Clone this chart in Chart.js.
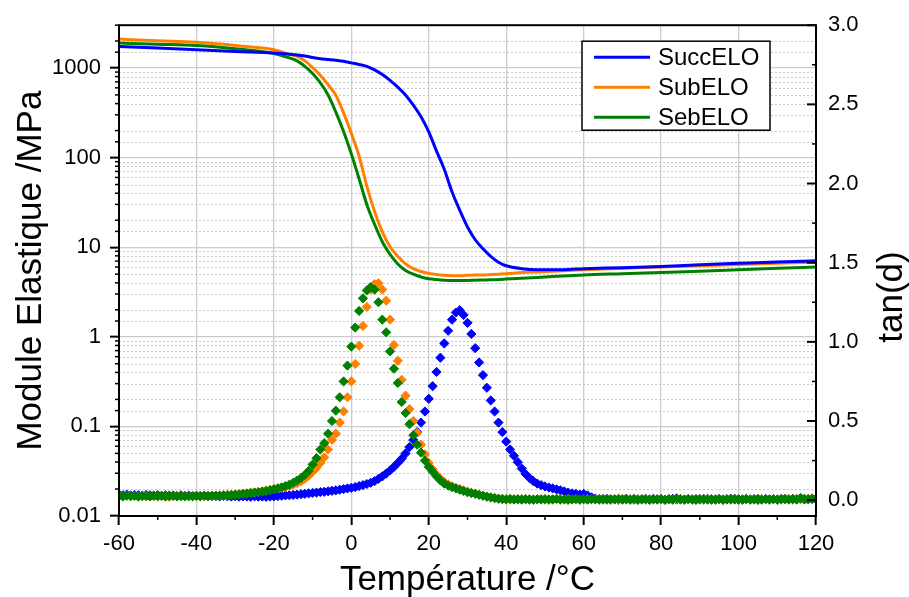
<!DOCTYPE html>
<html lang="fr">
<head>
    <meta charset="UTF-8" />
    <title>Module élastique et tan(d)</title>
    <script src="https://cdn.jsdelivr.net/npm/chart.js"></script>
    <style>
        body { margin: 0; background: #fff; }
        #wrap { width: 909px; height: 597px; position: relative; }
    </style>
</head>
<body>
<div id="wrap"><canvas id="dmaChart"></canvas></div>

<script>
    // Noms et couleurs des trois résines
    const seriesNames = ['SuccELO', 'SubELO', 'SebELO'];
    const seriesColors = ['#0000ff', '#ff8000', '#008000'];

    const xTitle = 'Température /°C';
    const yTitle = 'Module Elastique /MPa';
    const y2Title = 'tan(d)';

    const xTickLabels = ['-60', '-40', '-20', '0', '20', '40', '60', '80', '100', '120'];
    const yTickLabels = ['0.01', '0.1', '1', '10', '100', '1000'];
    const tanTickLabels = ['0.0', '0.5', '1.0', '1.5', '2.0', '2.5', '3.0'];

    // Module élastique (MPa), courbes continues
    const tempModulus = [-60, -50, -40, -30, -20, -16, -14, -12, -10, -8, -6, -4, -2, 0, 2, 4, 6, 8, 10, 12,
        14, 16, 18, 20, 22, 24, 26, 28, 30, 32, 34, 36, 38, 40, 44, 48, 52, 56, 60, 70, 80, 90, 100, 110, 120];
    const modSucc = [1740, 1670, 1600, 1530, 1470, 1420, 1395, 1360, 1310, 1270, 1245, 1220, 1190, 1140, 1095, 1040, 950, 845, 728, 610,
        500, 385, 285, 193, 118, 74, 41.5, 25.8, 16.8, 12.1, 9.6, 7.9, 6.8, 6.2, 5.75, 5.6, 5.6, 5.65, 5.75, 5.9, 6.1, 6.35, 6.6, 6.85, 7.05];
    const modSub = [2100, 2010, 1930, 1780, 1600, 1420, 1350, 1200, 1010, 830, 650, 497, 315, 186, 104, 48, 25, 14.8, 10.1, 7.9,
        6.5, 5.75, 5.35, 5.1, 4.95, 4.85, 4.8, 4.8, 4.85, 4.88, 4.9, 4.95, 5.0, 5.05, 5.2, 5.3, 5.4, 5.5, 5.6, 5.8, 6.0, 6.2, 6.4, 6.6, 6.8];
    const modSeb = [1900, 1840, 1780, 1640, 1450, 1295, 1200, 1040, 865, 680, 500, 322, 195, 110, 58, 30, 18, 11.5, 8.3, 6.5,
        5.5, 5.0, 4.65, 4.45, 4.35, 4.28, 4.25, 4.25, 4.25, 4.28, 4.3, 4.32, 4.35, 4.4, 4.5, 4.6, 4.7, 4.8, 4.9, 5.05, 5.2, 5.4, 5.6, 5.8, 6.0];

    // tan(d), points losanges
    const tempTan = [
        -60, -59, -58, -57, -56, -55, -54, -53, -52, -51,
        -50, -49, -48, -47, -46, -45, -44, -43, -42, -41,
        -40, -39, -38, -37, -36, -35, -34, -33, -32, -31,
        -30, -29, -28, -27, -26, -25, -24, -23, -22, -21,
        -20, -19, -18, -17, -16, -15, -14, -13, -12, -11,
        -10, -9, -8, -7, -6, -5, -4, -3, -2, -1,
        0, 1, 2, 3, 4, 5, 6, 7, 8, 9,
        10, 11, 12, 13, 14, 15, 16, 17, 18, 19,
        20, 21, 22, 23, 24, 25, 26, 27, 28, 29,
        30, 31, 32, 33, 34, 35, 36, 37, 38, 39,
        40, 41, 42, 43, 44, 45, 46, 47, 48, 49,
        50, 51, 52, 53, 54, 55, 56, 57, 58, 59,
        60, 61, 62, 63, 64, 65, 66, 67, 68, 69,
        70, 71, 72, 73, 74, 75, 76, 77, 78, 79,
        80, 81, 82, 83, 84, 85, 86, 87, 88, 89,
        90, 91, 92, 93, 94, 95, 96, 97, 98, 99,
        100, 101, 102, 103, 104, 105, 106, 107, 108, 109,
        110, 111, 112, 113, 114, 115, 116, 117, 118, 119, 120];

    const tanSucc = [
        0.034, 0.031, 0.035, 0.030, 0.033, 0.032, 0.029, 0.033, 0.031, 0.030,
        0.032, 0.028, 0.031, 0.029, 0.030, 0.027, 0.031, 0.028, 0.029, 0.027,
        0.028, 0.026, 0.029, 0.025, 0.027, 0.026, 0.024, 0.027, 0.025, 0.023,
        0.025, 0.022, 0.024, 0.023, 0.021, 0.024, 0.022, 0.023, 0.021, 0.023,
        0.024, 0.026, 0.028, 0.030, 0.031, 0.033, 0.035, 0.038, 0.040, 0.043,
        0.046, 0.048, 0.051, 0.053, 0.056, 0.059, 0.062, 0.066, 0.070, 0.074,
        0.078, 0.083, 0.089, 0.095, 0.102, 0.110, 0.120, 0.135, 0.150, 0.168,
        0.188, 0.210, 0.235, 0.262, 0.295, 0.335, 0.380, 0.430, 0.490, 0.560,
        0.640, 0.720, 0.810, 0.900, 0.990, 1.070, 1.140, 1.185, 1.200, 1.170,
        1.120, 1.050, 0.960, 0.870, 0.790, 0.710, 0.630, 0.560, 0.490, 0.430,
        0.370, 0.320, 0.280, 0.240, 0.200, 0.165, 0.140, 0.120, 0.105, 0.095,
        0.087, 0.080, 0.074, 0.068, 0.062, 0.055, 0.048, 0.043, 0.040, 0.035,
        0.040, 0.030, 0.018, 0.010, 0.006, 0.004, 0.008, 0.003, 0.006, 0.002,
        0.005, 0.009, 0.004, 0.006, 0.002, 0.007, 0.005, 0.003, 0.008, 0.004,
        0.006, 0.002, 0.005, 0.009, 0.004, 0.006, 0.003, 0.007, 0.005, 0.002,
        0.006, 0.004, 0.008, 0.003, 0.005, 0.007, 0.002, 0.006, 0.004, 0.008,
        0.003, 0.005, 0.007, 0.004, 0.006, 0.002, 0.005, 0.008, 0.004, 0.006,
        0.003, 0.007, 0.005, 0.004, 0.008, 0.006, 0.010, 0.005, 0.007, 0.009, 0.006];

    const tanSub = [
        0.026, 0.023, 0.028, 0.025, 0.027, 0.024, 0.026, 0.028, 0.023, 0.026,
        0.024, 0.027, 0.025, 0.022, 0.026, 0.028, 0.024, 0.026, 0.025, 0.027,
        0.026, 0.028, 0.025, 0.027, 0.029, 0.028, 0.031, 0.030, 0.033, 0.034,
        0.036, 0.038, 0.041, 0.043, 0.046, 0.049, 0.052, 0.056, 0.060, 0.065,
        0.070, 0.074, 0.078, 0.083, 0.090, 0.098, 0.108, 0.120, 0.135, 0.155,
        0.180, 0.205, 0.235, 0.270, 0.320, 0.380, 0.420, 0.490, 0.560, 0.650,
        0.750, 0.860, 0.975, 1.100, 1.220, 1.330, 1.365, 1.370, 1.330, 1.260,
        1.140, 0.980, 0.880, 0.760, 0.660, 0.575, 0.500, 0.425, 0.350, 0.290,
        0.235, 0.195, 0.160, 0.135, 0.115, 0.100, 0.088, 0.078, 0.070, 0.062,
        0.054, 0.047, 0.041, 0.035, 0.029, 0.023, 0.018, 0.014, 0.010, 0.008,
        0.006, 0.003, 0.007, 0.004, 0.008, 0.005, 0.002, 0.006, 0.004, 0.007,
        0.003, 0.006, 0.004, 0.008, 0.005, 0.003, 0.007, 0.004, 0.006, 0.002,
        0.005, 0.007, 0.004, 0.006, 0.003, 0.008, 0.005, 0.004, 0.006, 0.003,
        0.007, 0.004, 0.006, 0.002, 0.005, 0.008, 0.004, 0.006, 0.003, 0.007,
        0.005, 0.003, 0.006, 0.004, 0.007, 0.005, 0.002, 0.006, 0.004, 0.008,
        0.003, 0.006, 0.005, 0.007, 0.004, 0.006, 0.002, 0.005, 0.008, 0.004,
        0.006, 0.004, 0.007, 0.003, 0.005, 0.008, 0.004, 0.006, 0.003, 0.007,
        0.005, 0.004, 0.007, 0.006, 0.003, 0.008, 0.005, 0.009, 0.006, 0.012, 0.010];

    const tanSeb = [
        0.027, 0.024, 0.029, 0.025, 0.028, 0.023, 0.027, 0.026, 0.024, 0.028,
        0.025, 0.027, 0.023, 0.026, 0.028, 0.024, 0.027, 0.025, 0.026, 0.024,
        0.027, 0.025, 0.028, 0.026, 0.027, 0.029, 0.028, 0.030, 0.031, 0.033,
        0.035, 0.037, 0.040, 0.042, 0.045, 0.048, 0.050, 0.054, 0.058, 0.063,
        0.068, 0.074, 0.081, 0.089, 0.098, 0.110, 0.124, 0.140, 0.160, 0.185,
        0.225, 0.265, 0.320, 0.360, 0.420, 0.500, 0.565, 0.650, 0.750, 0.850,
        0.970, 1.090, 1.195, 1.275, 1.325, 1.345, 1.330, 1.250, 1.140, 1.060,
        0.940, 0.830, 0.740, 0.620, 0.550, 0.480, 0.410, 0.350, 0.300, 0.250,
        0.210, 0.180, 0.150, 0.125, 0.105, 0.092, 0.082, 0.074, 0.066, 0.058,
        0.050, 0.045, 0.040, 0.034, 0.028, 0.022, 0.017, 0.013, 0.009, 0.007,
        0.005, 0.008, 0.004, 0.006, 0.003, 0.007, 0.005, 0.002, 0.006, 0.004,
        0.007, 0.003, 0.005, 0.008, 0.004, 0.006, 0.002, 0.005, 0.007, 0.004,
        0.006, 0.003, 0.008, 0.005, 0.004, 0.007, 0.003, 0.006, 0.005, 0.009,
        0.004, 0.006, 0.003, 0.007, 0.005, 0.004, 0.008, 0.003, 0.006, 0.005,
        0.007, 0.004, 0.006, 0.003, 0.012, 0.005, 0.004, 0.007, 0.003, 0.006,
        0.005, 0.008, 0.004, 0.006, 0.003, 0.007, 0.005, 0.004, 0.009, 0.005,
        0.006, 0.003, 0.007, 0.005, 0.004, 0.008, 0.003, 0.006, 0.005, 0.007,
        0.004, 0.006, 0.008, 0.005, 0.007, 0.004, 0.014, 0.006, 0.005, 0.008, 0.009];

    const FONT = '"Liberation Sans", Arial, sans-serif';
    const GRID = '#cccccc';
    const NONE = 'rgba(0,0,0,0)';

    const isDecade = v => Math.abs(Math.log10(v) - Math.round(Math.log10(v))) < 1e-6;
    const toPoints = (xs, ys) => xs.map((x, i) => ({ x: x, y: ys[i] }));

    const modulusSets = [modSucc, modSub, modSeb].map((vals, i) => ({
        type: 'line',
        label: seriesNames[i],
        data: toPoints(tempModulus, vals),
        yAxisID: 'y',
        borderColor: seriesColors[i],
        backgroundColor: seriesColors[i],
        borderWidth: 3,
        pointRadius: 0,
        showLine: true,
        cubicInterpolationMode: 'monotone',
        order: i + 1
    }));

    // ordre: SebELO au-dessus, SuccELO en dessous
    const tanSets = [tanSucc, tanSub, tanSeb].map((vals, i) => ({
        type: 'scatter',
        label: seriesNames[i] + ' tan(d)',
        data: toPoints(tempTan, vals),
        yAxisID: 'y2',
        borderColor: seriesColors[i],
        backgroundColor: seriesColors[i],
        pointStyle: 'rectRot',
        pointRadius: 4.6,
        pointBorderWidth: 1,
        showLine: false,
        clip: 0,
        order: 7 - i
    }));

    // Décor: grille secondaire pointillée, cadre, petites graduations, légende, titres
    const decorations = {
        id: 'decorations',
        beforeDatasetsDraw(chart) {
            const { ctx, chartArea: a, scales } = chart;
            ctx.save();
            ctx.strokeStyle = '#c8c8c8';
            ctx.lineWidth = 1;
            ctx.setLineDash([2, 2]);
            scales.y.ticks.forEach(t => {
                if (isDecade(t.value)) return;
                const py = Math.round(scales.y.getPixelForValue(t.value)) + 0.5;
                ctx.beginPath();
                ctx.moveTo(a.left, py);
                ctx.lineTo(a.right, py);
                ctx.stroke();
            });
            ctx.restore();
        },
        afterDatasetsDraw(chart) {
            const { ctx, chartArea: a, scales } = chart;
            ctx.save();
            ctx.strokeStyle = '#000';

            // petites graduations axe log (vers l'extérieur)
            ctx.lineWidth = 1.5;
            scales.y.ticks.forEach(t => {
                if (isDecade(t.value)) return;
                const py = scales.y.getPixelForValue(t.value);
                ctx.beginPath();
                ctx.moveTo(a.left - 4, py);
                ctx.lineTo(a.left, py);
                ctx.stroke();
            });

            // petites graduations axe x (vers le bas)
            const xt = scales.x.ticks;
            for (let i = 0; i < xt.length - 1; i++) {
                const px = scales.x.getPixelForValue((xt[i].value + xt[i + 1].value) / 2);
                ctx.beginPath();
                ctx.moveTo(px, a.bottom);
                ctx.lineTo(px, a.bottom + 4);
                ctx.stroke();
            }

            // graduations axe tan(d) (vers l'intérieur)
            const yt = scales.y2.ticks;
            yt.forEach((t, i) => {
                const py = scales.y2.getPixelForValue(t.value);
                ctx.lineWidth = 2;
                ctx.beginPath();
                ctx.moveTo(a.right - 9, py);
                ctx.lineTo(a.right, py);
                ctx.stroke();
                if (i < yt.length - 1) {
                    const pm = scales.y2.getPixelForValue((t.value + yt[i + 1].value) / 2);
                    ctx.lineWidth = 1.5;
                    ctx.beginPath();
                    ctx.moveTo(a.right - 4, pm);
                    ctx.lineTo(a.right, pm);
                    ctx.stroke();
                }
            });

            // cadre
            ctx.lineWidth = 2;
            ctx.strokeRect(a.left, a.top, a.right - a.left, a.bottom - a.top);

            // légende
            const lx = a.right - 234, ly = a.top + 16, lw = 188, lh = 89;
            ctx.fillStyle = '#fff';
            ctx.fillRect(lx, ly, lw, lh);
            ctx.lineWidth = 1.5;
            ctx.strokeRect(lx, ly, lw, lh);
            ctx.font = '24px ' + FONT;
            ctx.textBaseline = 'middle';
            ctx.textAlign = 'left';
            modulusSets.forEach((ds, i) => {
                const yy = ly + 16 + i * 30;
                ctx.strokeStyle = ds.borderColor;
                ctx.lineWidth = 3;
                ctx.beginPath();
                ctx.moveTo(lx + 12, yy);
                ctx.lineTo(lx + 68, yy);
                ctx.stroke();
                ctx.fillStyle = '#000';
                ctx.fillText(ds.label, lx + 76, yy + 1);
            });
            ctx.restore();
        },
        afterDraw(chart) {
            const { ctx, chartArea: a } = chart;
            ctx.save();
            ctx.fillStyle = '#000';
            ctx.font = '35px ' + FONT;
            ctx.textAlign = 'center';
            ctx.textBaseline = 'alphabetic';
            ctx.fillText(xTitle, (a.left + a.right) / 2, 590);

            ctx.save();
            ctx.translate(41, (a.top + a.bottom) / 2);
            ctx.rotate(-Math.PI / 2);
            ctx.fillText(yTitle, 0, 0);
            ctx.restore();

            ctx.save();
            ctx.translate(902, 297);
            ctx.rotate(-Math.PI / 2);
            ctx.fillText(y2Title, 0, 0);
            ctx.restore();
            ctx.restore();
        }
    };

    const tickFont = { family: FONT, size: 22 };

    const chart = new Chart(document.getElementById('dmaChart'), {
        type: 'scatter',
        data: { datasets: modulusSets.concat(tanSets) },
        options: {
            responsive: true,
            maintainAspectRatio: false,
            animation: false,
            devicePixelRatio: 1,
            events: [],
            layout: { padding: { top: 24, left: 0, right: 0, bottom: 0 } },
            plugins: {
                legend: { display: false },
                tooltip: { enabled: false }
            },
            scales: {
                x: {
                    type: 'linear',
                    position: 'bottom',
                    min: -60,
                    max: 120,
                    afterFit: s => { s.height = 81; },
                    ticks: {
                        stepSize: 20,
                        autoSkip: false,
                        maxRotation: 0,
                        padding: 6,
                        color: '#000',
                        font: tickFont,
                        callback: v => xTickLabels.includes(String(v)) ? String(v) : ''
                    },
                    grid: {
                        color: GRID,
                        lineWidth: 1.3,
                        tickColor: '#000',
                        tickLength: 9,
                        tickWidth: 2
                    },
                    border: { display: false }
                },
                y: {
                    type: 'logarithmic',
                    position: 'left',
                    min: 0.01,
                    max: 3000,
                    afterFit: s => { s.width = 119; },
                    ticks: {
                        autoSkip: false,
                        padding: 9,
                        color: '#000',
                        font: tickFont,
                        callback: v => isDecade(v) ? yTickLabels[Math.round(Math.log10(v)) + 2] : ''
                    },
                    grid: {
                        color: c => (c.tick && isDecade(c.tick.value)) ? GRID : NONE,
                        lineWidth: 1.3,
                        tickColor: c => (c.tick && isDecade(c.tick.value)) ? '#000' : NONE,
                        tickLength: 9,
                        tickWidth: 2
                    },
                    border: { display: false }
                },
                y2: {
                    type: 'linear',
                    position: 'right',
                    min: -0.1,
                    max: 3.0,
                    afterFit: s => { s.width = 93; },
                    ticks: {
                        stepSize: 0.5,
                        includeBounds: false,
                        autoSkip: false,
                        padding: 12,
                        color: '#000',
                        font: tickFont,
                        callback: v => tanTickLabels.find(l => Math.abs(parseFloat(l) - v) < 1e-6) || ''
                    },
                    grid: { drawOnChartArea: false, drawTicks: false },
                    border: { display: false }
                }
            }
        },
        plugins: [decorations]
    });
</script>
</body>
</html>
